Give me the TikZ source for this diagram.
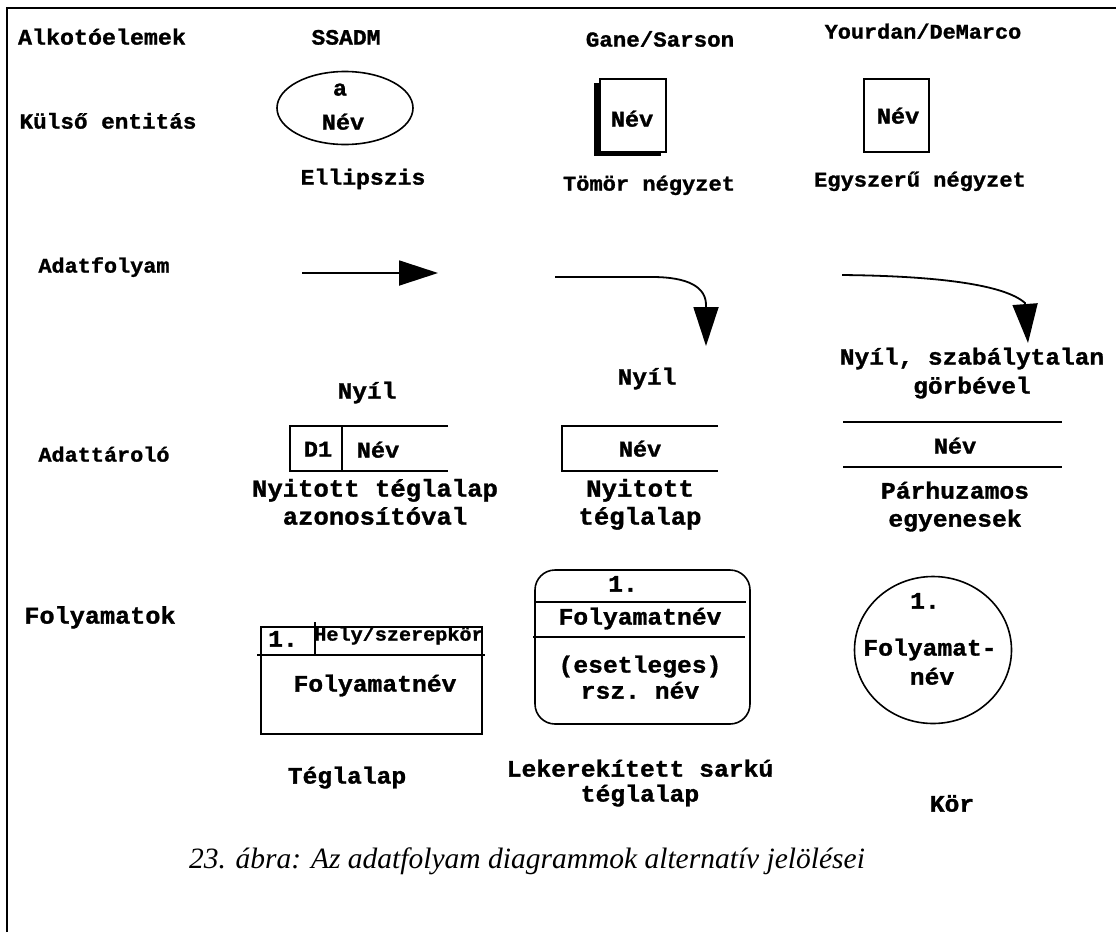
\documentclass[tikz,border=0pt]{standalone}
\usepackage{fontspec}
\setmainfont{Liberation Serif}
\setmonofont[FakeStretch=1.05,FakeBold=1.2]{Liberation Mono}
\usetikzlibrary{arrows.meta,shapes.geometric}
\newcommand\fsz[1]{\fontsize{#1}{#1}\selectfont}
\begin{document}
\begin{tikzpicture}[x=1pt,y=-1pt,
  lbl/.style={inner sep=0pt, text height=0.62em, text depth=0.2em, yshift=-4.5pt,
              font=\ttfamily\bfseries\fsz{#1}},
  lbl/.default=22,
  shape line/.style={line width=1.6pt},
  flow/.style={line width=1.8pt, -{Triangle[length=39pt,width=25pt]}}]
\useasboundingbox (0,0) rectangle (1116,932);
% page frame (top and left edges)
\draw[line width=2.5pt] (7,932) -- (7,8) -- (1116,8);

% column and row headings
\node[lbl=22.2] (hdrA) at (102,38) {Alkotóelemek};
\node[lbl=21.9] (hdrS) at (346,38) {SSADM};
\node[lbl=21.4] (hdrG) at (660,40) {Gane/Sarson};
\node[lbl=20.8] (hdrY) at (923,32) {Yourdan/DeMarco};
\node[lbl=21.6] (rowA) at (108,122) {Külső entitás};
\node[lbl=20.8] (rowB) at (104,266) {Adatfolyam};
\node[lbl=20.8] (rowC) at (104,455) {Adattároló};
\node[lbl=24]   (rowD) at (100,617) {Folyamatok};

% external entities
\node[shape line, draw, ellipse, minimum width=136pt, minimum height=73pt, inner sep=0pt] (ell) at (345,108) {};
\node[lbl=22.5] (ellA) at (340,89) {a};
\node[lbl=22.5] (ellN) at (343,123) {Név};
\node[lbl=22]   (ellL) at (363,178) {Ellipszis};

\fill (594,83) rectangle (661,156);
\node[shape line, draw, fill=white, minimum width=66pt, minimum height=73pt, inner sep=0pt] (gsbox) at (633,115.5) {};
\node[lbl=22.5] (gsN) at (632,120) {Név};
\node[lbl=21]   (gsL) at (649,184) {Tömör négyzet};

\node[shape line, draw, minimum width=65pt, minimum height=73pt, inner sep=0pt] (ydbox) at (896.5,115.5) {};
\node[lbl=22.5] (ydN) at (898,117) {Név};
\node[lbl=21]   (ydL) at (920,180) {Egyszerű négyzet};

% data flows
\coordinate (fA1) at (302,273);
\coordinate (fA2) at (438,273);
\draw[flow] (fA1) -- (fA2);
\node[lbl=23.3] (fAL) at (367,392) {Nyíl};

\coordinate (fB1) at (555,277);
\coordinate (fB2) at (652,277);
\coordinate (fB3) at (706,305);
\coordinate (fB4) at (706,346);
\draw[flow] (fB1) -- (fB2) .. controls (688,277) and (706,287) .. (fB3) -- (fB4);
\node[lbl=23.3] (fBL) at (647,378) {Nyíl};

\coordinate (fC1) at (842,275);
\coordinate (fC2) at (1025,303);
\coordinate (fC3) at (1028,343);
\draw[flow] (fC1) .. controls (940,276) and (1005,285) .. (fC2) -- (fC3);
\node[lbl=23.3] (fCL1) at (972,358) {Nyíl, szabálytalan};
\node[lbl=23.3] (fCL2) at (972,387) {görbével};

% data stores
\draw[shape line] (448,426) -- (290,426) -- (290,471) -- (448,471);
\draw[shape line] (342,426) -- (342,471);
\node[lbl=22.5] (dsA1) at (318,450) {D1};
\node[lbl=22.5] (dsA2) at (378,451) {Név};
\node[lbl=24.4] (dsAL1) at (375,490) {Nyitott téglalap};
\node[lbl=24.4] (dsAL2) at (375,518) {azonosítóval};

\draw[shape line] (718,426) -- (562,426) -- (562,471) -- (718,471);
\node[lbl=22.5] (dsB) at (640,450) {Név};
\node[lbl=24.4] (dsBL1) at (640,490) {Nyitott};
\node[lbl=24.4] (dsBL2) at (640,518) {téglalap};

\draw[shape line] (843,422) -- (1062,422);
\draw[shape line] (843,467) -- (1062,467);
\node[lbl=22.5] (dsC) at (955,447) {Név};
\node[lbl=23.5] (dsCL1) at (955,492) {Párhuzamos};
\node[lbl=23.5] (dsCL2) at (955,520) {egyenesek};

% processes
\draw[shape line] (261,627) rectangle (482,734);
\draw[shape line] (257,655) -- (485,655);
\draw[shape line] (315,622) -- (315,655);
\node[lbl=23.5] (prA1) at (283,640) {1.};
\node[lbl=19.2] (prA2) at (399,634) {Hely/szerepkör};
\node[lbl=23.5] (prA3) at (375,685) {Folyamatnév};
\node[lbl=23.5] (prAL) at (347,777) {Téglalap};

\draw[shape line, rounded corners=20pt] (535,570) rectangle (750,724);
\draw[shape line] (535,602) -- (746,602);
\draw[shape line] (533,637) -- (745,637);
\node[lbl=23.5] (prB1) at (623,585) {1.};
\node[lbl=23.5] (prB2) at (640,618) {Folyamatnév};
\node[lbl=23.5] (prB3) at (640,666) {(esetleges)};
\node[lbl=23.5] (prB4) at (640,692) {rsz. név};
\node[lbl=23.5] (prBL1) at (640,770) {Lekerekített sarkú};
\node[lbl=23.5] (prBL2) at (640,795) {téglalap};

\draw[shape line] (933,650) ellipse (78.5 and 73.5);
\node[lbl=23.5] (prC1) at (925,602) {1.};
\node[lbl=23.5] (prC2) at (930,649) {Folyamat-};
\node[lbl=23.5] (prC3) at (932,678) {név};
\node[lbl=23.5] (prCL) at (952,805) {Kör};

% caption
\node[inner sep=0pt, font=\itshape\fsz{29.5}] (cap) at (527,861) {23. ábra: Az adatfolyam diagrammok alternatív jelölései};
\end{tikzpicture}
\end{document}
